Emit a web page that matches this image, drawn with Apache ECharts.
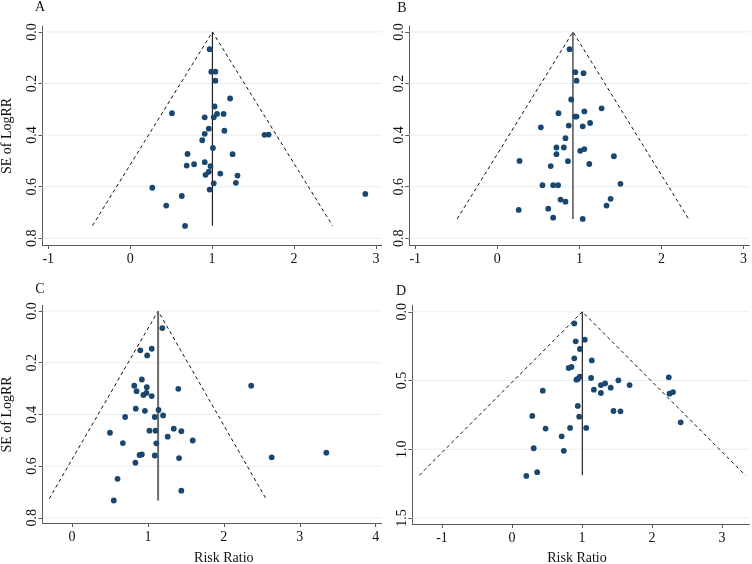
<!DOCTYPE html>
<html>
<head>
<meta charset="utf-8">
<script src="https://cdn.jsdelivr.net/npm/echarts@6/dist/echarts.min.js"></script>
<style>html,body{margin:0;padding:0;background:#fff;}#c{width:752px;height:564px;}</style>
</head>
<body>
<div id="c"></div>
<script>
// ---- Data (Risk Ratio, SE of LogRR) ----
const pointsA = [[0.97,0.067],[0.99,0.154],[1.04,0.154],[1.04,0.189],[1.22,0.258],[1.03,0.289],[0.51,0.315],[0.91,0.331],[1.02,0.331],[1.06,0.318],[1.14,0.318],[0.96,0.375],[1.15,0.383],[0.91,0.395],[1.64,0.399],[1.69,0.398],[0.88,0.42],[1.01,0.45],[0.70,0.473],[1.25,0.474],[0.91,0.505],[0.78,0.513],[0.69,0.518],[0.98,0.52],[0.96,0.542],[0.92,0.554],[1.10,0.549],[1.31,0.557],[1.29,0.585],[1.02,0.587],[0.27,0.604],[0.97,0.611],[0.63,0.636],[2.87,0.628],[0.44,0.673],[0.67,0.752]];
const pointsB = [[0.88,0.067],[0.95,0.156],[1.05,0.16],[0.965,0.189],[0.90,0.262],[1.27,0.296],[1.06,0.308],[0.745,0.315],[0.945,0.328],[0.965,0.328],[1.13,0.353],[0.87,0.363],[1.04,0.366],[0.53,0.37],[0.83,0.412],[0.72,0.448],[0.81,0.448],[1.06,0.454],[1.01,0.461],[0.72,0.474],[1.42,0.482],[0.27,0.50],[0.86,0.501],[1.12,0.512],[0.65,0.52],[0.55,0.594],[0.68,0.594],[0.74,0.594],[1.50,0.589],[0.77,0.65],[1.38,0.647],[0.83,0.658],[1.33,0.673],[0.62,0.685],[0.26,0.69],[0.68,0.72],[1.04,0.725]];
const pointsC = [[1.19,0.066],[1.05,0.146],[0.90,0.152],[0.99,0.172],[0.92,0.265],[0.82,0.289],[0.985,0.295],[1.40,0.301],[2.36,0.289],[0.85,0.31],[0.98,0.317],[0.94,0.325],[1.05,0.329],[0.84,0.378],[0.96,0.386],[1.14,0.383],[0.70,0.41],[1.09,0.41],[1.20,0.404],[0.50,0.471],[1.02,0.463],[1.10,0.463],[1.34,0.455],[1.44,0.465],[1.26,0.486],[1.59,0.501],[0.67,0.511],[1.11,0.512],[0.89,0.557],[0.92,0.555],[1.09,0.559],[3.35,0.548],[2.63,0.566],[1.41,0.569],[0.835,0.587],[0.60,0.649],[1.44,0.695],[0.55,0.733]];
const pointsD = [[0.89,0.085],[0.91,0.215],[1.04,0.203],[0.97,0.271],[0.89,0.339],[1.14,0.354],[0.81,0.409],[0.85,0.402],[1.13,0.482],[0.97,0.472],[0.92,0.494],[0.94,0.489],[1.27,0.533],[1.33,0.521],[1.41,0.552],[1.52,0.499],[1.68,0.533],[1.17,0.567],[1.27,0.591],[2.24,0.477],[2.25,0.596],[2.30,0.584],[0.44,0.574],[0.94,0.685],[1.45,0.722],[1.55,0.724],[0.29,0.758],[0.96,0.763],[2.41,0.804],[0.48,0.85],[0.83,0.845],[1.06,0.845],[0.71,0.906],[0.31,0.993],[0.74,1.012],[0.36,1.167],[0.205,1.194]];

// funnel outline vertices (left bottom, apex, right bottom) and pooled-estimate line
const funnelA = [[-0.46,0.751],[1.004,0],[2.47,0.751]];
const funnelB = [[-0.49,0.725],[0.921,0],[2.33,0.725]];
const funnelC = [[-0.30,0.726],[1.134,0],[2.555,0.726]];
const funnelD = [[-1.325,1.19],[1.005,0],[3.335,1.19]];
const pooledA = [[1.004,0],[1.004,0.751]];
const pooledB = [[0.921,0],[0.921,0.725]];
const pooledC = [[1.134,0],[1.134,0.733]];
const pooledD = [[1.005,0],[1.005,1.19]];

// tick labels
const xTicksAB = [-1,0,1,2,3];
const xTicksC = [0,1,2,3,4];
const xTicksD = [-1,0,1,2,3];
const yTicksABC = [0,0.2,0.4,0.6,0.8];
const yTicksD = [0,0.5,1.0,1.5];

const panelLetters = ['A','B','C','D'];
const xTitle = 'Risk Ratio';
const yTitle = 'SE of LogRR';

// ---- Layout ----
const FONT = '"Liberation Serif", "Times New Roman", serif';
const grids = [
  {left:42.5, top:26, width:339.2, height:219},
  {left:409.3, top:26, width:340, height:219},
  {left:42.7, top:305.3, width:339, height:217.7},
  {left:412.3, top:305.3, width:337, height:218.7}
];
const xRanges = [[-1.07,3.07],[-1.073,3.07],[-0.386,4.079],[-1.424,3.39]];
const yRanges = [[-0.023,0.826],[-0.023,0.826],[-0.022,0.82],[-0.047,1.544]];
const xTicks = [xTicksAB, xTicksAB, xTicksC, xTicksD];
const yTicks = [yTicksABC, yTicksABC, yTicksABC, yTicksD];
const pts = [pointsA, pointsB, pointsC, pointsD];
const funnels = [funnelA, funnelB, funnelC, funnelD];
const pooled = [pooledA, pooledB, pooledC, pooledD];

const axisColor = '#5a5a5a';
const gridColor = '#e6eef1';
const dotColor = '#1a476f';

const xAxis = [], yAxis = [], series = [];
for (let i = 0; i < 4; i++) {
  xAxis.push({
    type:'value', gridIndex:i, min:xRanges[i][0], max:xRanges[i][1],
    splitLine:{show:false},
    axisLine:{show:true, onZero:false, lineStyle:{color:axisColor, width:1}},
    axisTick:{show:true, length:4, customValues:xTicks[i], lineStyle:{color:axisColor}},
    axisLabel:{customValues:xTicks[i], margin:7, color:'#111', fontFamily:FONT, fontSize:14,
      formatter:v => String(v)}
  });
  yAxis.push({
    type:'value', gridIndex:i, inverse:true, min:yRanges[i][0], max:yRanges[i][1],
    splitLine:{show:false},
    axisLine:{show:true, onZero:false, lineStyle:{color:axisColor, width:1}},
    axisTick:{show:true, length:4, customValues:yTicks[i], lineStyle:{color:axisColor}},
    axisLabel:{customValues:yTicks[i], rotate:90, margin:3, color:'#111', fontFamily:FONT, fontSize:14,
      formatter:v => v.toFixed(1)}
  });
  // horizontal gridlines at the y ticks, across the plot region
  yTicks[i].forEach(v => {
    series.push({
      type:'line', xAxisIndex:i, yAxisIndex:i, data:[[xRanges[i][0], v],[xRanges[i][1], v]],
      symbol:'none', silent:true, z:1,
      lineStyle:{color:gridColor, width:1}
    });
  });
  // funnel
  series.push({
    type:'line', xAxisIndex:i, yAxisIndex:i, data:funnels[i], symbol:'none', silent:true,
    lineStyle:{color:'#111', width:1, type:[3.5,3]}, z:3
  });
  // pooled estimate
  series.push({
    type:'line', xAxisIndex:i, yAxisIndex:i, data:pooled[i], symbol:'none', silent:true,
    lineStyle:{color: i===2 ? '#6a6a6a' : '#222', width: i===2 ? 2 : 1.2}, z:3
  });
  // studies
  series.push({
    type:'scatter', xAxisIndex:i, yAxisIndex:i, data:pts[i], symbol:'circle', symbolSize:5.8,
    itemStyle:{color:dotColor, opacity:1}, z:4, silent:true
  });
}

const textStyle = (s) => Object.assign({fill:'#111', font:'14px ' + FONT, textAlign:'center', textVerticalAlign:'middle'}, s);
const graphic = [
  {type:'text', x:40, y:7, style:textStyle({text:panelLetters[0]})},
  {type:'text', x:402, y:8, style:textStyle({text:panelLetters[1]})},
  {type:'text', x:40, y:289, style:textStyle({text:panelLetters[2]})},
  {type:'text', x:401, y:291, style:textStyle({text:panelLetters[3]})},
  {type:'text', x:7, y:136, rotation:Math.PI/2, style:textStyle({text:yTitle})},
  {type:'text', x:7, y:414.5, rotation:Math.PI/2, style:textStyle({text:yTitle})},
  {type:'text', x:223.8, y:558, style:textStyle({text:xTitle})},
  {type:'text', x:577, y:558, style:textStyle({text:xTitle})}
];

const chart = echarts.init(document.getElementById('c'), null, {renderer:'canvas'});
chart.setOption({
  animation:false,
  backgroundColor:'#ffffff',
  grid: grids.map(g => Object.assign({containLabel:false, outerBoundsMode:'none'}, g)),
  xAxis, yAxis, series, graphic
});
</script>
</body>
</html>
